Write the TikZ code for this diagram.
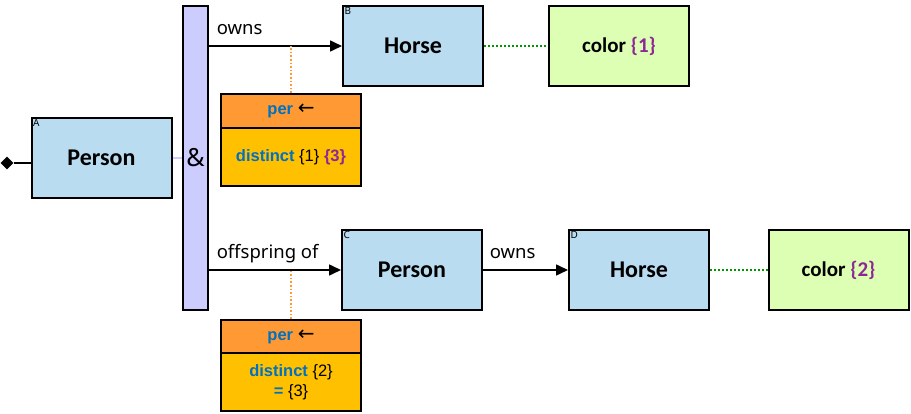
\documentclass[tikz,border=0pt]{standalone}
\usepackage{fontspec}
\setmainfont{Liberation Sans}
\newfontfamily\calfont{Carlito}
\newfontfamily\labfont{Noto Sans}
\newfontfamily\symfont{DejaVu Sans}
\usetikzlibrary{arrows.meta,shapes.geometric,positioning}
\definecolor{entblue}{RGB}{185,220,240}
\definecolor{barlav}{RGB}{204,204,255}
\definecolor{valgreen}{RGB}{221,255,179}
\definecolor{perorange}{RGB}{255,153,51}
\definecolor{pergold}{RGB}{255,192,0}
\definecolor{kwblue}{RGB}{0,112,192}
\definecolor{varpurple}{RGB}{140,40,150}
\definecolor{dotgreen}{RGB}{0,150,0}
\newcommand{\kw}[1]{\textcolor{kwblue}{\textbf{#1}}}
\newcommand{\var}[1]{\textcolor{varpurple}{\textbf{#1}}}
\tikzset{
  ent/.style={draw,line width=2pt,fill=entblue,minimum width=140pt,minimum height=80pt,
    font=\calfont\bfseries\fontsize{24}{26}\selectfont},
  val/.style={ent,fill=valgreen,font=\calfont\bfseries\fontsize{21}{23}\selectfont},
  tag/.style={anchor=north west,inner sep=2.5pt,font=\labfont\fontsize{10}{11}\selectfont},
  perhead/.style={draw,line width=2pt,fill=perorange,minimum width=140pt,
    font=\bfseries\fontsize{16.5}{18}\selectfont},
  perbody/.style={draw,line width=2pt,fill=pergold,minimum width=140pt,minimum height=58pt,
    align=center,font=\fontsize{16.5}{20}\selectfont},
  link/.style={line width=1.6pt,-{Triangle[length=12pt,width=11pt]}},
  lbl/.style={pos=0,anchor=base west,inner sep=0pt,xshift=7pt,yshift=11pt,
    font=\labfont\fontsize{18.5}{20}\selectfont},
  attr/.style={dotgreen,line width=2pt,dotted},
  perline/.style={perorange,line width=1.6pt,dotted}
}

\begin{document}
\begin{tikzpicture}[x=1pt,y=-1pt]
        \useasboundingbox (0,0) rectangle (911,414);

        \node [ent]  (personA) at (101.5,158) {Person};
        \node [draw,line width=2pt,fill=barlav,minimum width=21pt,minimum height=304pt,
               font=\labfont\fontsize{25}{27}\selectfont] (bar) at (195.5,158) {\&};
        \node [ent]  (horseB)  at (413,46)    {Horse};
        \node [val]  (color1)  at (619,46)    {color \var{\{1\}}};
        \node [ent]  (personC) at (412,270)   {Person};
        \node [ent]  (horseD)  at (639,270)   {Horse};
        \node [val]  (color2)  at (838.5,270) {color \var{\{2\}}};

        \node [tag]  (tagA) at (personA.north west) {A};
        \node [tag]  (tagB) at (horseB.north west)  {B};
        \node [tag]  (tagC) at (personC.north west) {C};
        \node [tag]  (tagD) at (horseD.north west)  {D};

        \node [diamond,fill=black,inner sep=0pt,minimum size=13pt] (start) at (7,163) {};

        % per boxes
        \node [perhead,minimum height=34pt] (perH1) at (291,111) {\kw{per} {\symfont\mdseries\fontsize{20}{20}\selectfont ←}};
        \node [perbody] (perB1) [below=-2pt of perH1] {\kw{distinct} \{1\} \var{\{3\}}};
        \node [perhead,minimum height=33pt] (perH2) at (291,336.5) {\kw{per} {\symfont\mdseries\fontsize{20}{20}\selectfont ←}};
        \node [perbody] (perB2) [below=-2pt of perH2] {\kw{distinct} \{2\}\\ \kw{=} \{3\}};

        \draw [line width=2pt,black] (start) -- (start -| personA.west);
        \draw [barlav,line width=1.5pt] (personA) -- (bar);

        \draw [link] (bar.east |- horseB) to node [lbl] {owns} (horseB);
        \draw [link] (bar.east |- personC) to node [lbl] {offspring of} (personC);
        \draw [link] (personC) to node [lbl,xshift=-1pt] {owns} (horseD);

        \draw [attr] (horseB) -- (color1);
        \draw [attr] (horseD) -- (color2);

        \draw [perline] (perH1.north) -- (perH1.north |- horseB);
        \draw [perline] (perH2.north) -- (perH2.north |- personC);
      \end{tikzpicture}
\end{document}
